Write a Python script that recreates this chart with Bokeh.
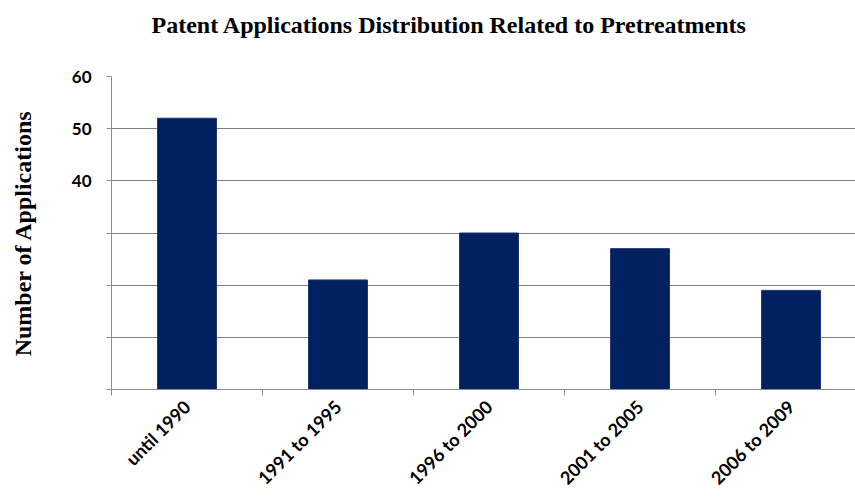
import math
from bokeh.plotting import figure
from bokeh.models import ColumnDataSource, FixedTicker, Range1d, Title
from bokeh.embed import file_html
from bokeh.resources import INLINE

categories = ["until 1990", "1991 to 1995", "1996 to 2000", "2001 to 2005", "2006 to 2009"]
applications = [52, 21, 30, 27, 19]
y_ticks = [0, 10, 20, 30, 40, 50, 60]
y_labels = {0: "", 10: "", 20: "", 30: "", 40: "40", 50: "50", 60: "60"}
title_text = "Patent Applications Distribution Related to Pretreatments"

centers = [i + 0.5 for i in range(len(categories))]
source = ColumnDataSource(dict(x=centers, top=applications))

p = figure(width=855, height=499, output_backend="svg", toolbar_location=None,
           x_range=Range1d(0, 4.927), y_range=Range1d(0, 60),
           min_border_left=111, min_border_right=0, min_border_top=76, min_border_bottom=110)
p.outline_line_color = None

p.vbar(x="x", top="top", width=0.39, source=source, fill_color="#00205F", line_color="#1a3570", line_width=1)

# spacer between title and plot frame, then the title above it
p.add_layout(Title(text=" ", text_font_size="33px", standoff=0), "above")
p.add_layout(Title(text=title_text, align="left", offset=40, standoff=0,
                   text_font="Liberation Serif", text_font_size="24px", text_font_style="bold",
                   text_color="#000000"), "above")

# x axis
xa = p.xaxis[0]
xa.ticker = FixedTicker(ticks=centers, minor_ticks=list(range(len(categories) + 1)))
xa.major_label_overrides = {c: lab for c, lab in zip(centers, categories)}
xa.major_label_orientation = math.pi / 4
xa.major_tick_line_color = None
xa.major_tick_out = 0
xa.major_tick_in = 0
xa.minor_tick_out = 6
xa.minor_tick_in = 0
xa.minor_tick_line_color = "#8c8c8c"
xa.axis_line_color = "#8c8c8c"
xa.major_label_text_font = "Lato"
xa.major_label_text_font_style = "bold"
xa.major_label_text_font_size = "18px"
xa.major_label_text_color = "#000000"
xa.major_label_standoff = 8

# y axis
ya = p.yaxis[0]
ya.ticker = FixedTicker(ticks=y_ticks, minor_ticks=[])
ya.major_label_overrides = y_labels
ya.major_tick_out = 5
ya.major_tick_in = 0
ya.major_tick_line_color = "#8c8c8c"
ya.axis_line_color = "#8c8c8c"
ya.major_label_text_font = "Lato"
ya.major_label_text_font_style = "bold"
ya.major_label_text_font_size = "17px"
ya.major_label_text_color = "#000000"
ya.major_label_standoff = 15
ya.axis_label = "Number of Applications"
ya.axis_label_text_font = "Liberation Serif"
ya.axis_label_text_font_style = "bold"
ya.axis_label_text_font_size = "24px"
ya.axis_label_text_color = "#000000"
ya.axis_label_standoff = 33

p.xgrid.grid_line_color = None
p.ygrid.ticker = FixedTicker(ticks=[10, 20, 30, 40, 50, 60])
p.ygrid.grid_line_color = "#000000"
p.ygrid.grid_line_dash = "1 1"
p.ygrid.grid_line_width = 1

open("out.html", "w").write(file_html(p, INLINE))
